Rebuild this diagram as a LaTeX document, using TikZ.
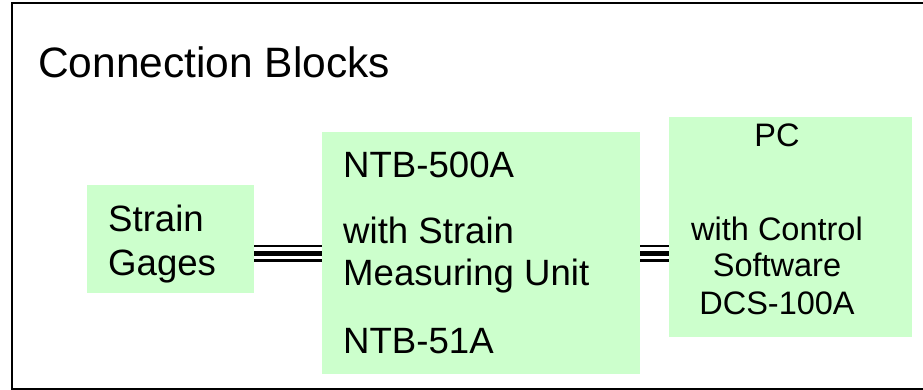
\documentclass[tikz,border=0pt]{standalone}
\usepackage{fontspec}
\setmainfont{Liberation Sans}
\definecolor{boxgreen}{RGB}{204,255,204}
\begin{document}
\begin{tikzpicture}[x=1pt,y=-1pt,
  greenbox/.style={rectangle,fill=boxgreen,draw=none,inner sep=0pt},
  txt/.style={inner sep=0pt,font=\fontsize{36.6}{44}\selectfont},
  pctxt/.style={inner sep=0pt,font=\fontsize{32.5}{38}\selectfont},
  ttl/.style={inner sep=0pt,font=\fontsize{42.5}{50}\selectfont},
  wire/.style={draw=black}]
\useasboundingbox (0,0) rectangle (923,390);
\clip (0,0) rectangle (923,390);
\fill[white] (0,0) rectangle (923,390);
\draw[line width=2.5pt] (12,3) rectangle (960,389);
\node[ttl,anchor=base west] (title) at (38,78) {Connection Blocks};
\node[greenbox,minimum width=167pt,minimum height=108pt] (sg) at (170.5,239) {};
\node[greenbox,minimum width=318pt,minimum height=242pt] (mu) at (481,253) {};
\node[greenbox,minimum width=243pt,minimum height=220pt] (pc) at (790.5,227) {};
% texts
\node[txt,anchor=base west] (t1) at (108,231) {Strain};
\node[txt,anchor=base west] (t2) at (108,275) {Gages};
\node[txt,anchor=base west] (t3) at (343,178) {NTB-500A};
\node[txt,anchor=base west] (t4) at (343,243) {with Strain};
\node[txt,anchor=base west] (t5) at (343,285) {Measuring Unit};
\node[txt,anchor=base west] (t6) at (343,353) {NTB-51A};
\node[pctxt,anchor=base] (t7) at (777,147) {PC};
\node[pctxt,anchor=base] (t8) at (777,240) {with Control};
\node[pctxt,anchor=base] (t9) at (777,276) {Software};
\node[pctxt,anchor=base] (t10) at (777,314) {DCS-100A};
% connectors
\draw[wire,line width=2pt] (sg.east |- 0,246) -- (mu.west |- 0,246);
\draw[wire,line width=5pt] (sg.east |- 0,253.5) -- (mu.west |- 0,253.5);
\draw[wire,line width=3pt] (sg.east |- 0,260) -- (mu.west |- 0,260);
\draw[wire,line width=2pt] (mu.east |- 0,246) -- (pc.west |- 0,246);
\draw[wire,line width=5pt] (mu.east |- 0,253.5) -- (pc.west |- 0,253.5);
\draw[wire,line width=3pt] (mu.east |- 0,260) -- (pc.west |- 0,260);
\end{tikzpicture}
\end{document}
